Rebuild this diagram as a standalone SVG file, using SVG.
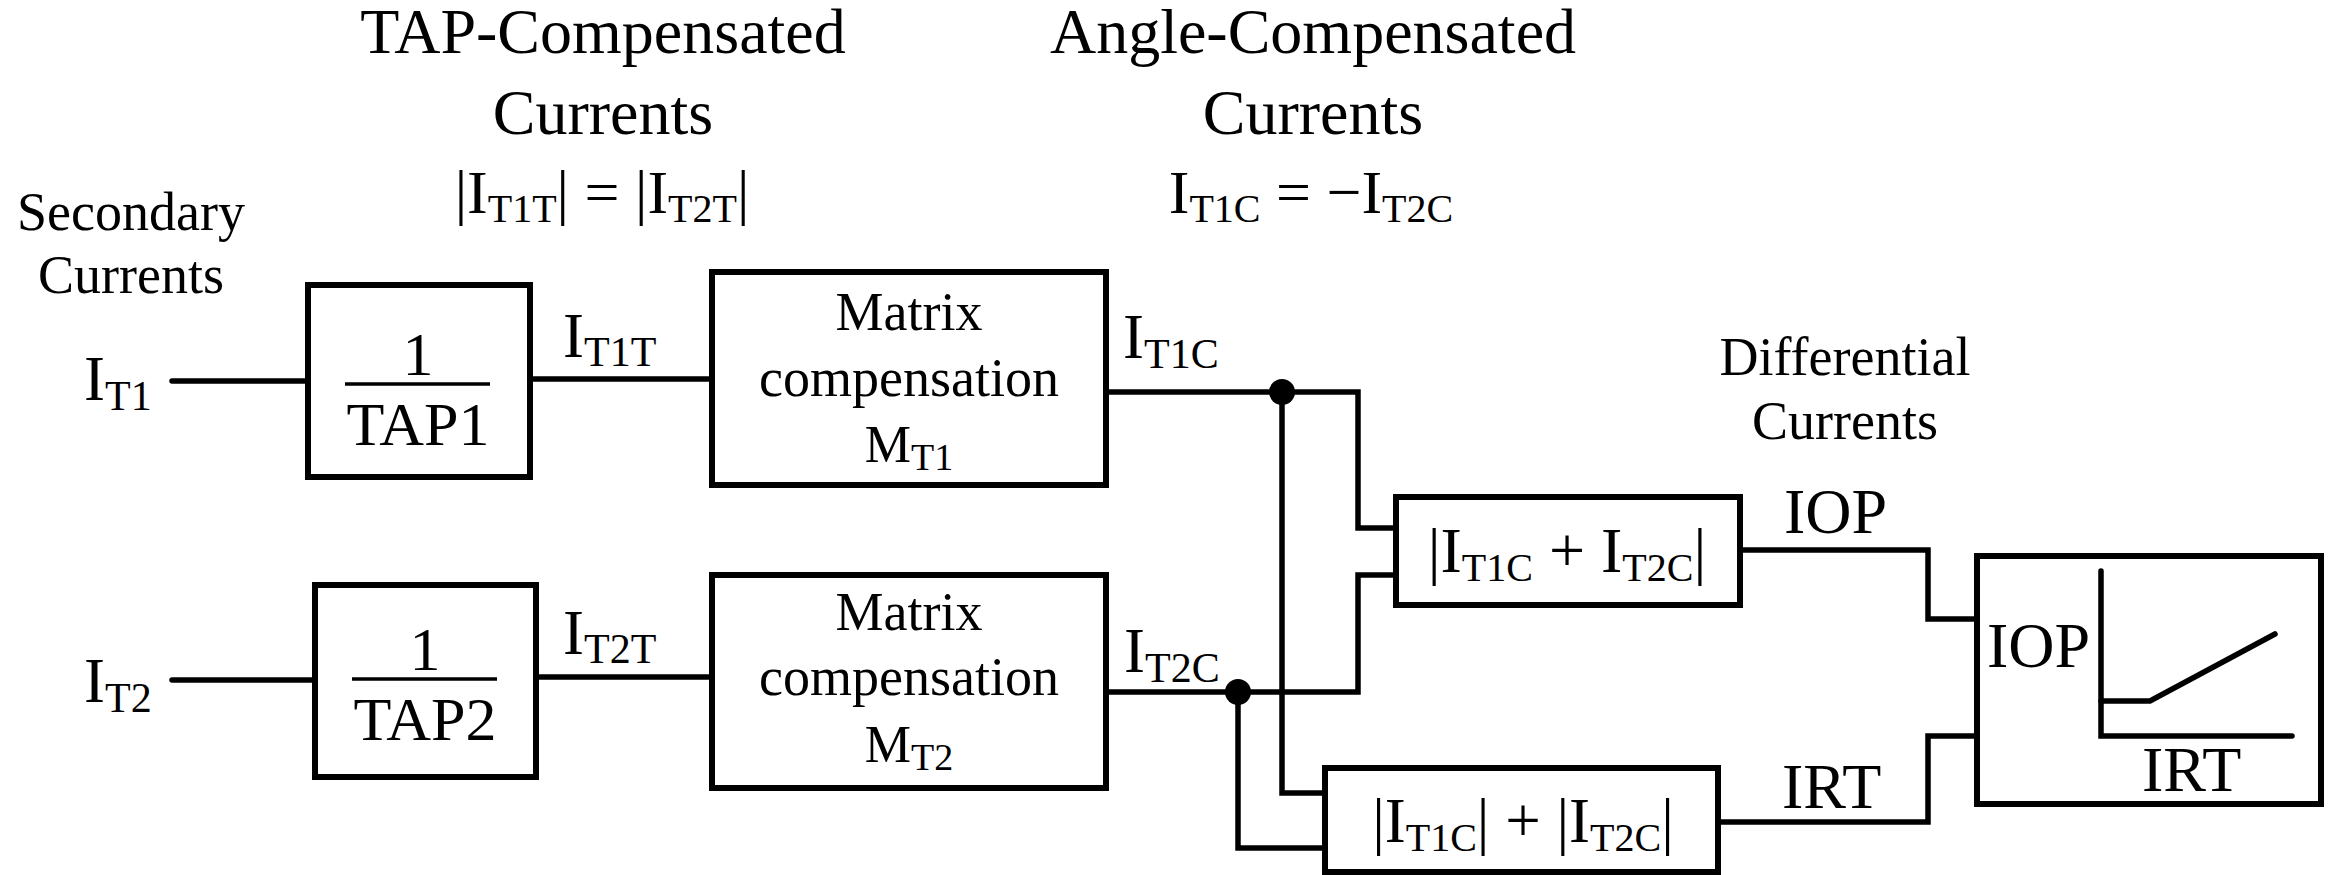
<svg xmlns="http://www.w3.org/2000/svg" width="2333" height="875" viewBox="0 0 2333 875">
<style>
.box{fill:#fff;stroke:#000;stroke-width:6;stroke-linejoin:miter}
.w{fill:none;stroke:#000;stroke-width:5.5;stroke-linecap:round;stroke-linejoin:miter}
.frac{stroke:#000;stroke-width:3.5}
.dot{fill:#000}
text{font-family:"Liberation Serif","Times New Roman",serif;fill:#000}
.m{text-anchor:middle}
.f64{font-size:64px}
.f63{font-size:63px}
.f62{font-size:62px}
.f54{font-size:54px}
.f52{font-size:52px}
.s42{font-size:42px}
.s40{font-size:40px}
.s38{font-size:38px}
</style>
<rect width="2333" height="875" fill="#fff"/>

<g id="titles">
  <text class="f64 m" x="603" y="53">TAP-Compensated</text>
  <text class="f64 m" x="603" y="134">Currents</text>
  <text class="f62 m" x="602" y="213">|I<tspan class="s40" dy="9">T1T</tspan><tspan dy="-9">| = |I</tspan><tspan class="s40" dy="9">T2T</tspan><tspan dy="-9">|</tspan></text>
  <text class="f64 m" x="1313" y="53">Angle-Compensated</text>
  <text class="f64 m" x="1313" y="134">Currents</text>
  <text class="f62 m" x="1311" y="213">I<tspan class="s40" dy="9">T1C</tspan><tspan dy="-9"> = −I</tspan><tspan class="s40" dy="9">T2C</tspan></text>
  <text class="f54 m" x="131" y="230">Secondary</text>
  <text class="f54 m" x="131" y="293">Currents</text>
  <text class="f54 m" x="1845" y="375">Differential</text>
  <text class="f54 m" x="1845" y="439">Currents</text>
</g>

<g id="connectors">
  <path class="w" d="M172,381 H308"/>
  <path class="w" d="M530,379 H712"/>
  <path class="w" d="M172,680 H315"/>
  <path class="w" d="M536,677 H712"/>
  <path class="w" d="M1106,392 H1358 V528 H1396"/>
  <path class="w" d="M1282,392 V793 H1325"/>
  <path class="w" d="M1106,692 H1358 V575 H1396"/>
  <path class="w" d="M1238,692 V848 H1325"/>
  <path class="w" d="M1740,550 H1928 V619 H1977"/>
  <path class="w" d="M1718,822 H1928 V736 H1977"/>
  <circle class="dot" cx="1282" cy="392" r="13"/>
  <circle class="dot" cx="1238" cy="692" r="13"/>
</g>

<g id="signal-labels">
  <text class="f63" x="84" y="400">I<tspan class="s42" dy="10">T1</tspan></text>
  <text class="f63" x="84" y="702">I<tspan class="s42" dy="10">T2</tspan></text>
  <text class="f63" x="563" y="357">I<tspan class="s42" dy="9">T1T</tspan></text>
  <text class="f63" x="563" y="654">I<tspan class="s42" dy="9">T2T</tspan></text>
  <text class="f63" x="1123" y="358">I<tspan class="s42" dy="10">T1C</tspan></text>
  <text class="f63" x="1124" y="672">I<tspan class="s42" dy="10">T2C</tspan></text>
  <text class="f64" x="1784" y="533">IOP</text>
  <text class="f64" x="1782" y="808">IRT</text>
</g>

<g id="tap1">
  <rect class="box" x="308" y="285" width="222" height="192"/>
  <text class="f62 m" x="418" y="375">1</text>
  <line class="frac" x1="345" y1="384" x2="490" y2="384"/>
  <text class="f62 m" x="418" y="445">TAP1</text>
</g>

<g id="tap2">
  <rect class="box" x="315" y="585" width="221" height="192"/>
  <text class="f62 m" x="425" y="670">1</text>
  <line class="frac" x1="352" y1="679" x2="497" y2="679"/>
  <text class="f62 m" x="425" y="740">TAP2</text>
</g>

<g id="matrix1">
  <rect class="box" x="712" y="272" width="394" height="213"/>
  <text class="f54 m" x="909" y="330">Matrix</text>
  <text class="f54 m" x="909" y="396">compensation</text>
  <text class="f52 m" x="909" y="462">M<tspan class="s38" dy="8">T1</tspan></text>
</g>

<g id="matrix2">
  <rect class="box" x="712" y="575" width="394" height="213"/>
  <text class="f54 m" x="909" y="630">Matrix</text>
  <text class="f54 m" x="909" y="695">compensation</text>
  <text class="f52 m" x="909" y="762">M<tspan class="s38" dy="8">T2</tspan></text>
</g>

<g id="sum-op">
  <rect class="box" x="1396" y="497" width="344" height="108"/>
  <text class="f64 m" x="1567" y="572">|I<tspan class="s40" dy="9">T1C</tspan><tspan dy="-9"> + I</tspan><tspan class="s40" dy="9">T2C</tspan><tspan dy="-9">|</tspan></text>
</g>

<g id="sum-rt">
  <rect class="box" x="1325" y="768" width="393" height="104"/>
  <text class="f63 m" x="1523" y="842">|I<tspan class="s40" dy="9">T1C</tspan><tspan dy="-9">| + |I</tspan><tspan class="s40" dy="9">T2C</tspan><tspan dy="-9">|</tspan></text>
</g>

<g id="characteristic">
  <rect class="box" x="1977" y="556" width="344" height="248"/>
  <path class="w" d="M2101,571 V736 H2292"/>
  <path class="w" d="M2101,701 H2150 L2275,634"/>
  <text class="f64" x="1987" y="667">IOP</text>
  <text class="f64" x="2142" y="791">IRT</text>
</g>
</svg>
